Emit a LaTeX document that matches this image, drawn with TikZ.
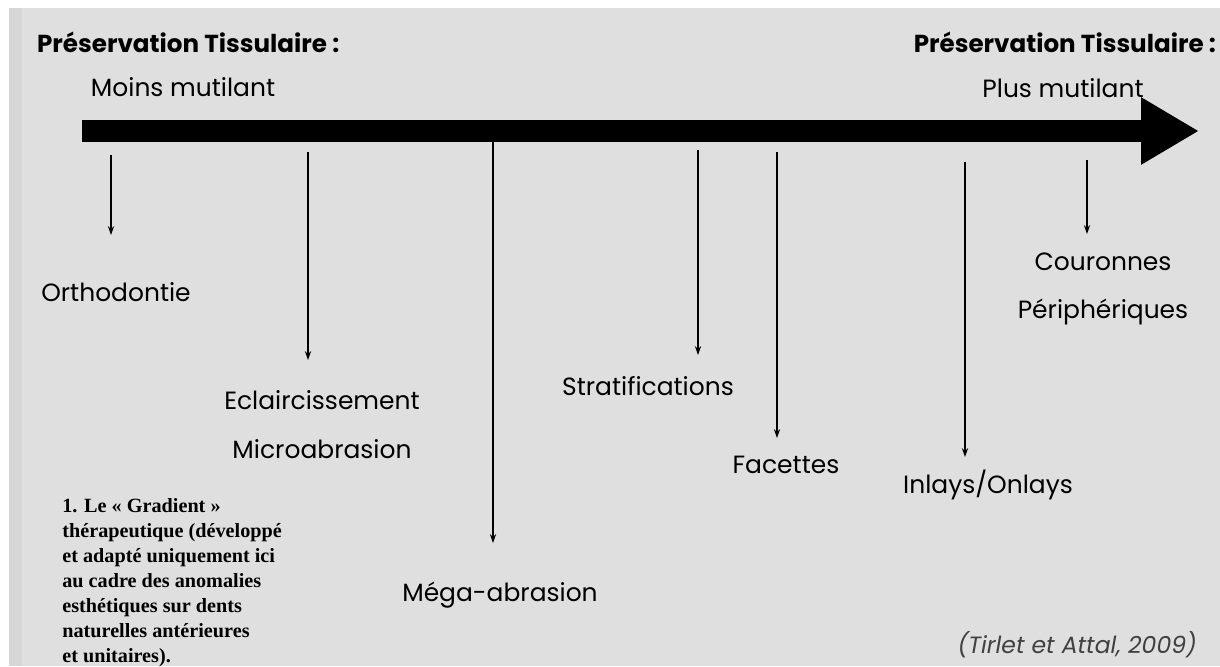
\documentclass[tikz,border=0pt]{standalone}
\usepackage{fontspec}
\setmainfont{Poppins}
\newfontfamily\notefont{Liberation Serif}
\usetikzlibrary{arrows.meta, positioning}

\definecolor{bggray}{HTML}{DFDFDF}
\definecolor{stripgray}{HTML}{D6D6D6}

\begin{document}
\begin{tikzpicture}[
    x=0.02cm, y=-0.02cm,
    treat/.style={font=\fontsize{14.2}{17}\selectfont, align=center, inner sep=1pt},
    head/.style={font=\bfseries\fontsize{14}{16}\selectfont, inner sep=1pt},
    sub/.style={font=\fontsize{14.2}{16}\selectfont, inner sep=1pt},
    tick/.style={line width=1pt, -{Stealth[length=5pt,width=3.5pt]}},
    gradient/.style={line width=12.5pt, -{Triangle[length=33pt,width=36pt]}}]

    % Background
    \fill[white] (0,0) rectangle (1220,666);
    \fill[stripgray] (9,8) rectangle (22,666);
    \fill[bggray] (22,8) rectangle (1220,666);
    \useasboundingbox (0,0) rectangle (1220,666);

    % Titles
    \node[head, anchor=west] (preL) at (35,42) {Préservation Tissulaire :};
    \node[head, anchor=east] (preR) at (1218,42) {Préservation Tissulaire :};
    \node[sub] (moins) at (183,87) {Moins mutilant};
    \node[sub] (plus) at (1063,88) {Plus mutilant};

    % Main arrow
    \coordinate (start) at (82,131);
    \coordinate (end) at (1199,131);
    \draw[gradient] (start) -- (end);

    % Treatments
    \node[treat] (ortho) at (116,292) {Orthodontie};
    \node[treat] (eclair) at (322,425) {Eclaircissement\\[11pt]Microabrasion};
    \node[treat] (mega) at (500,595) {Méga-abrasion};
    \node[treat] (strat) at (648,386) {Stratifications};
    \node[treat] (fac) at (786,465) {Facettes};
    \node[treat] (inlay) at (988,485) {Inlays/Onlays};
    \node[treat] (cour) at (1103,289) {Couronnes\\[10pt]Périphériques};

    % Ticks
    \coordinate (t1) at (111,155);
    \coordinate (t2) at (308,152);
    \coordinate (t3) at (493,140);
    \coordinate (t4) at (698,150);
    \coordinate (t5) at (777,152);
    \coordinate (t6) at (965,162);
    \coordinate (t7) at (1087,160);
    \draw[tick] (t1) -- (111,235);
    \draw[tick] (t2) -- (308,360);
    \draw[tick] (t3) -- (493,543);
    \draw[tick] (t4) -- (698,355);
    \draw[tick] (t5) -- (777,438);
    \draw[tick] (t6) -- (965,457);
    \draw[tick] (t7) -- (1087,234);

    % Note and source
    \node[font=\notefont\bfseries\fontsize{11.5}{14.2}\selectfont, align=left, anchor=north west, inner sep=0pt] (note) at (62,498)
        {1. Le « Gradient »\\thérapeutique (développé\\et adapté uniquement ici\\au cadre des anomalies\\esthétiques sur dents\\naturelles antérieures\\et unitaires).};
    \node[font=\itshape\fontsize{13.4}{15}\selectfont, text=black!75, anchor=east] (src) at (1203,645) {(Tirlet et Attal, 2009)};

\end{tikzpicture}
\end{document}
